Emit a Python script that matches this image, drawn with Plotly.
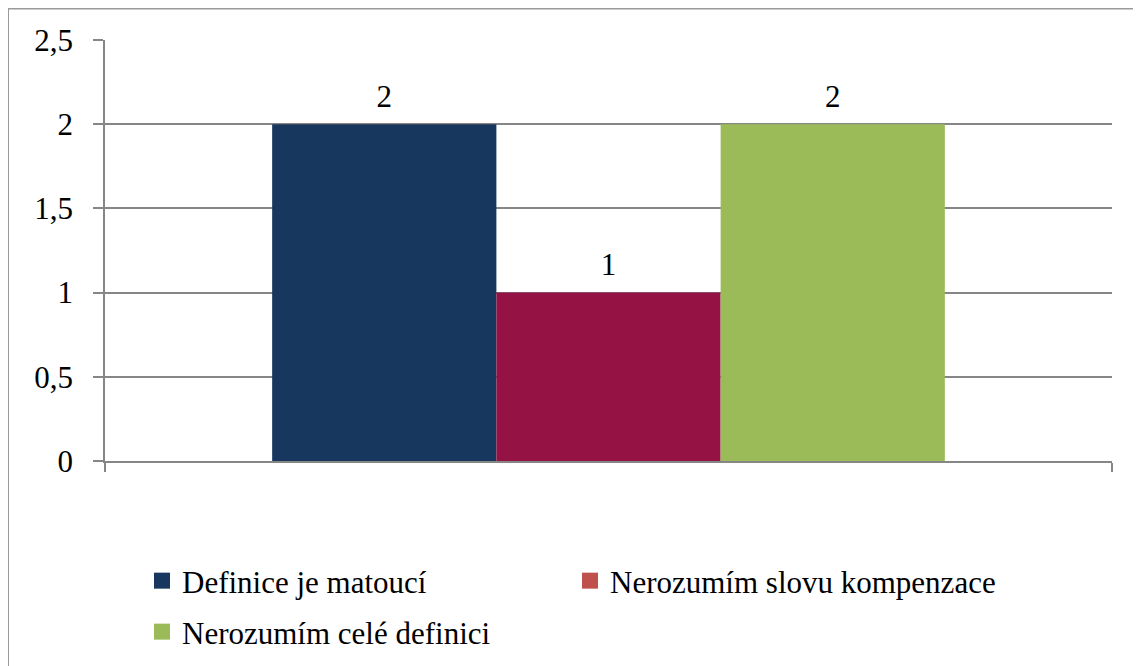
import plotly.graph_objects as go

series_names = ["Definice je matoucí", "Nerozumím slovu kompenzace", "Nerozumím celé definici"]
series_values = [2, 1, 2]
bar_colors = ["#17375E", "#941244", "#9BBB59"]
legend_colors = ["#17375E", "#C0504D", "#9BBB59"]
legend_rows = ["legend", "legend", "legend2"]
y_ticks = [0, 0.5, 1, 1.5, 2, 2.5]
y_tick_labels = ["0", "0,5", "1", "1,5", "2", "2,5"]

FONT = "Times New Roman"
W, H = 1133, 658
L, T = 97, 32
PW, PH = 1007, 421
BARGAP = 0.332

slots = list(range(len(series_values)))
half = (len(slots) / 2) / (1 - BARGAP)
center = (len(slots) - 1) / 2
x_range = [center - half, center + half]

fig = go.Figure()
for i, (name, val, col) in enumerate(zip(series_names, series_values, bar_colors)):
    fig.add_trace(go.Bar(
        x=[slots[i]], y=[val], name=name, width=1,
        marker=dict(color=col, line=dict(width=0)),
        showlegend=False, hoverinfo="name+y",
    ))
fig.add_trace(go.Scatter(
    x=slots, y=series_values, mode="markers+text",
    text=[str(v) for v in series_values], textposition="top center",
    textfont=dict(family=FONT, size=31, color="#000000"),
    marker=dict(size=14, opacity=0), showlegend=False, cliponaxis=False,
    hoverinfo="skip",
))
for name, col, lg in zip(series_names, legend_colors, legend_rows):
    fig.add_trace(go.Scatter(
        x=[None], y=[None], mode="markers", name=name,
        marker=dict(symbol="square", size=16, color=col),
        showlegend=True, legend=lg,
    ))

legend_common = dict(
    orientation="h", xanchor="left", yanchor="middle",
    entrywidth=383, entrywidthmode="pixels",
    font=dict(family=FONT, size=31, color="#000000"),
    bgcolor="rgba(0,0,0,0)", itemwidth=30,
)

fig.update_layout(
    width=W, height=H,
    margin=dict(l=L, r=W - L - PW, t=T, b=H - T - PH, autoexpand=False),
    paper_bgcolor="white", plot_bgcolor="white",
    font=dict(family=FONT, size=31, color="#000000"),
    showlegend=True,
    legend=dict(x=(142 - 105) / PW, y=(461 - 581) / PH, **legend_common),
    legend2=dict(x=(142 - 105) / PW, y=(461 - 632) / PH, **legend_common),
    xaxis=dict(
        range=x_range, tickvals=x_range, showticklabels=False,
        showline=True, linecolor="#868686", linewidth=2,
        ticks="outside", ticklen=9, tickcolor="#868686", tickwidth=2,
        showgrid=False, zeroline=False,
    ),
    yaxis=dict(
        range=[0, 2.5], tickvals=y_ticks, ticktext=y_tick_labels,
        showline=True, linecolor="#868686", linewidth=1.5,
        ticks="outside", ticklen=10, tickcolor="#868686", tickwidth=1.5,
        showgrid=True, gridcolor="#868686", gridwidth=1.5,
        zeroline=False, ticklabelstandoff=14,
        tickfont=dict(family=FONT, size=31, color="#000000"),
    ),
    shapes=[dict(
        type="rect", xref="paper", yref="paper",
        x0=(0 - L) / PW, x1=(1132 - L) / PW,
        y0=(T + PH - 700) / PH, y1=(T + PH - 0.5) / PH,
        line=dict(color="#9a9a9a", width=2), fillcolor="rgba(0,0,0,0)", layer="below",
    )],
)

fig.write_html("out.html")
